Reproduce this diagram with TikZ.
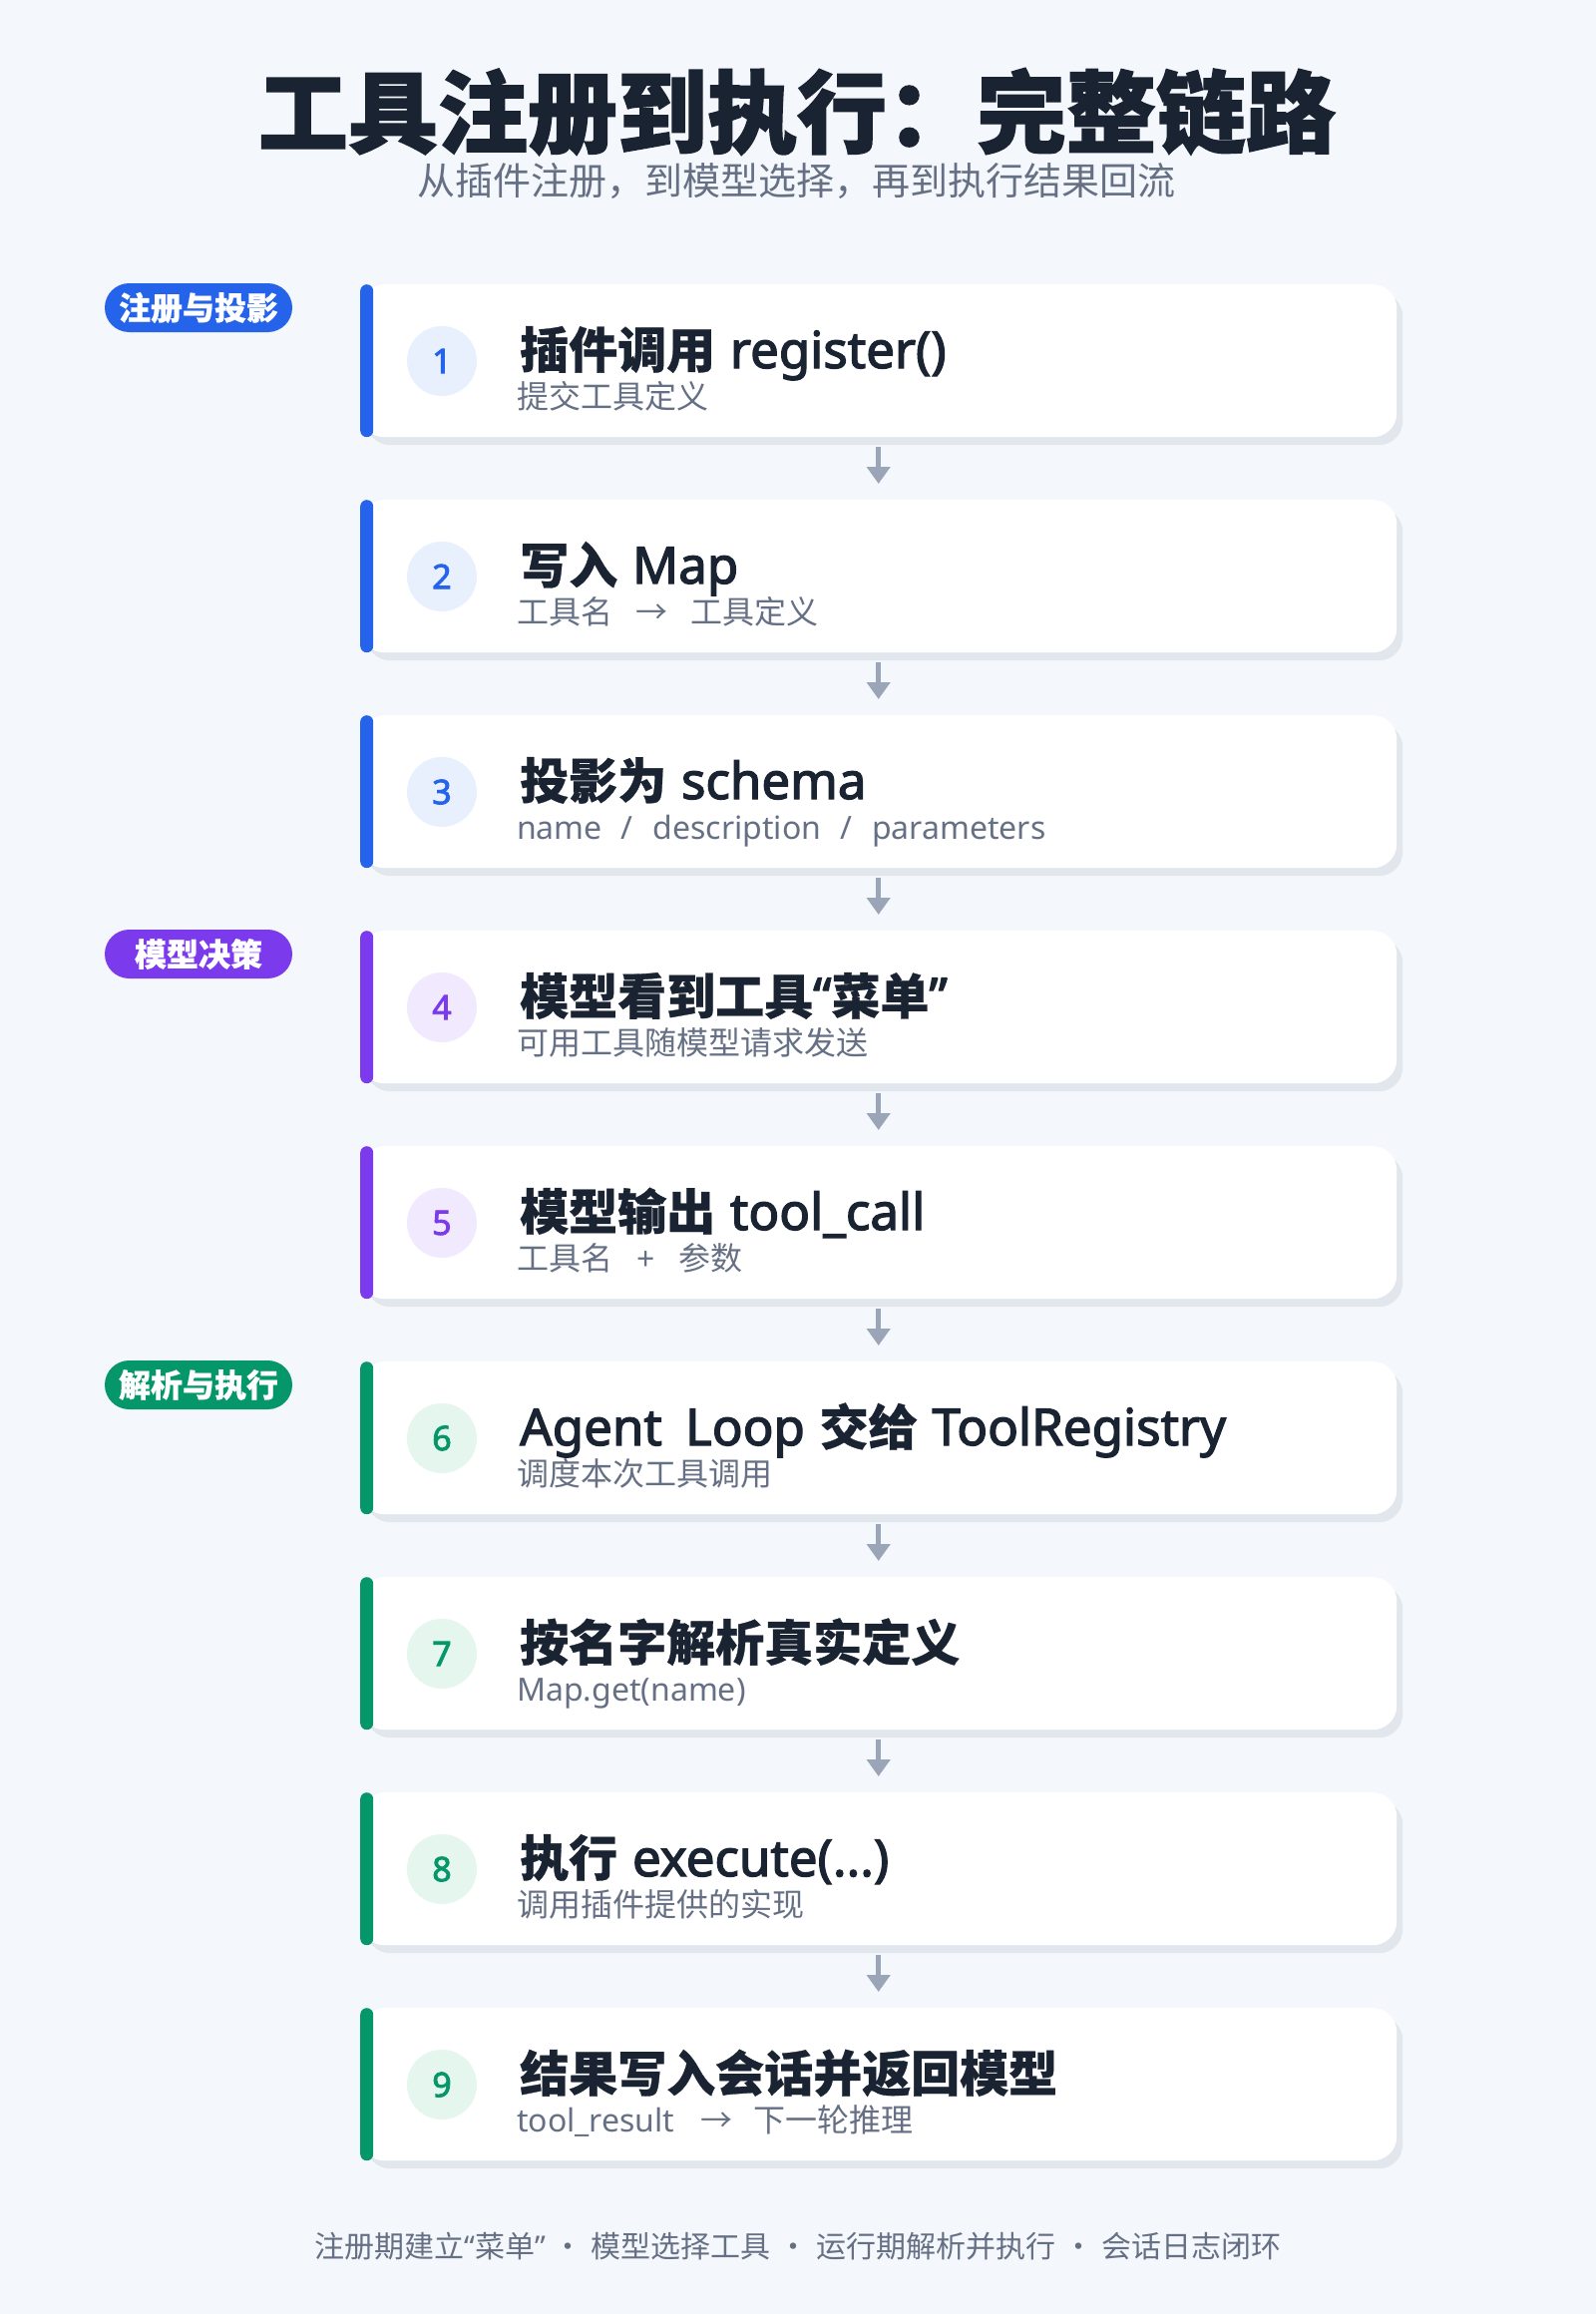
\documentclass[tikz,border=0pt]{standalone}
\usepackage{fontspec}
\usetikzlibrary{arrows.meta}
\newfontfamily\cjk{Noto Sans CJK SC}
\newfontfamily\cjkh{Noto Sans CJK SC}[BoldFeatures={FakeBold=0.6}]
\newfontfamily\titlefont{Noto Sans CJK SC}[BoldFeatures={FakeBold=1.6}]
\newfontfamily\latn{Noto Sans}
\IfFontExistsTF{Noto Sans Bold}
  {\newfontfamily\latnb{Noto Sans Bold}[FakeBold=0.8]}
  {\newfontfamily\latnb{Noto Sans}[FakeBold=2.5]}
\definecolor{bg}{HTML}{F4F7FB}
\definecolor{ink}{HTML}{1A2332}
\definecolor{muted}{HTML}{667085}
\definecolor{shade}{HTML}{E2E7EE}
\definecolor{arrowc}{HTML}{9AA5B8}
\definecolor{pblue}{HTML}{2563EB}
\definecolor{lblue}{HTML}{E8F0FE}
\definecolor{ppurple}{HTML}{7C3AED}
\definecolor{lpurple}{HTML}{F1E9FE}
\definecolor{pgreen}{HTML}{059669}
\definecolor{lgreen}{HTML}{E4F6EE}
\newcommand\myhc[1]{{\cjkh\bfseries #1}}
\newcommand\myhl[1]{{\latnb\fontsize{51}{56}\selectfont #1}}
\newcommand\mysc[1]{{\cjk #1}}
\newcommand\mysl[1]{{\latn #1}}
\tikzset{
  shadowbox/.style={fill=shade, rounded corners=24pt, minimum width=1039pt, minimum height=153pt, inner sep=0pt, anchor=north west},
  cardbox/.style={fill=white, rounded corners=24pt, minimum width=1039pt, minimum height=153pt, inner sep=0pt, anchor=north west},
  accent/.style={rounded corners=6.5pt, minimum width=13pt, minimum height=153pt, inner sep=0pt, anchor=north west},
  numcirc/.style={circle, minimum size=70pt, inner sep=0pt, font=\latnb\fontsize{34}{34}\selectfont},
  ttl/.style={anchor=base west, inner sep=0pt, text=ink, font=\fontsize{49}{56}\selectfont},
  subt/.style={anchor=base west, inner sep=0pt, text=muted, font=\fontsize{32}{36}\selectfont},
  pill/.style={rounded corners=24.5pt, minimum width=188pt, minimum height=49pt, inner sep=0pt, text=white, font=\cjkh\bfseries\fontsize{32}{34}\selectfont},
  flow/.style={draw=arrowc, line width=4.5pt, -{Triangle[width=23pt,length=17pt]}, shorten <=10pt, shorten >=16pt},
}
\newcommand\mycard[7]{%
  \node[shadowbox] (sh#1) at (367,#2+8) {};
  \node[cardbox] (c#1) at (361,#2) {};
  \node[accent, fill=#3] (bar#1) at (361,#2) {};
  \node[numcirc, fill=#4, text=#3] (n#1) at (443,#2+77) {#1};
  \node[ttl] (t#1) at (521,#2+84) {#6};
  \node[subt] (s#1) at (518,#2+124) {#7};
}
\begin{document}
\begin{tikzpicture}[x=1pt,y=-1pt]
\useasboundingbox (0,0) rectangle (1600,2320);
\fill[bg] (0,0) rectangle (1600,2320);

\node[text=ink, font=\titlefont\bfseries\fontsize{90}{100}\selectfont] (title) at (799,112) {工具注册到执行：完整链路};
\node[text=muted, font=\cjk\fontsize{38}{40}\selectfont] (subtitle) at (798,181) {从插件注册，到模型选择，再到执行结果回流};

\mycard{1}{285}{pblue}{lblue}{}{\myhc{插件调用} \myhl{register()}}{\mysc{提交工具定义}}
\mycard{2}{501}{pblue}{lblue}{}{\myhc{写入} \myhl{Map}}{\mysc{工具名}\hspace{23pt}\mysc{→}\hspace{23pt}\mysc{工具定义}}
\mycard{3}{717}{pblue}{lblue}{}{\myhc{投影为} \myhl{schema}}{\mysl{name\hspace{19pt}/\hspace{20pt}description\hspace{19pt}/\hspace{20pt}parameters}}
\mycard{4}{933}{ppurple}{lpurple}{}{\myhc{模型看到工具}\myhl{“}\myhc{菜单}\myhl{”}}{\mysc{可用工具随模型请求发送}}
\mycard{5}{1149}{ppurple}{lpurple}{}{\myhc{模型输出} \myhl{tool\_call}}{\mysc{工具名}\hspace{24pt}\mysl{+}\hspace{24pt}\mysc{参数}}
\mycard{6}{1365}{pgreen}{lgreen}{}{\myhl{Agent\hspace{10pt} Loop} \myhc{交给} \myhl{ToolRegistry}}{\mysc{调度本次工具调用}}
\mycard{7}{1581}{pgreen}{lgreen}{}{\myhc{按名字解析真实定义}}{\mysl{Map.get(name)}}
\mycard{8}{1797}{pgreen}{lgreen}{}{\myhc{执行} \myhl{execute(...)}}{\mysc{调用插件提供的实现}}
\mycard{9}{2013}{pgreen}{lgreen}{}{\myhc{结果写入会话并返回模型}}{\mysl{tool\_result}\hspace{26pt}\mysc{→}\hspace{21pt}\mysc{下一轮推理}}

\draw[flow] (c1.south) -- (c2.north);
\draw[flow] (c2.south) -- (c3.north);
\draw[flow] (c3.south) -- (c4.north);
\draw[flow] (c4.south) -- (c5.north);
\draw[flow] (c5.south) -- (c6.north);
\draw[flow] (c6.south) -- (c7.north);
\draw[flow] (c7.south) -- (c8.north);
\draw[flow] (c8.south) -- (c9.north);

\node[pill, fill=pblue] (p1) at (199,308.5) {注册与投影};
\node[pill, fill=ppurple] (p2) at (199,956.5) {模型决策};
\node[pill, fill=pgreen] (p3) at (199,1388.5) {解析与执行};

\node[text=muted, font=\cjk\fontsize{30}{34}\selectfont] (foot) at (800,2252) {注册期建立{\latn “}菜单{\latn ”}\hspace{8pt}·\hspace{8pt}模型选择工具\hspace{8pt}·\hspace{8pt}运行期解析并执行\hspace{8pt}·\hspace{8pt}会话日志闭环};
\end{tikzpicture}
\end{document}
